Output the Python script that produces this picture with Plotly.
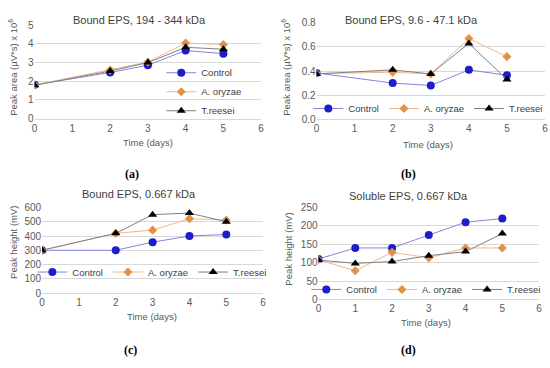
import plotly.graph_objects as go

# ---------------- data ----------------
series_names = ["Control", "A. oryzae", "T.reesei"]

days_a = [0, 2, 3, 4, 5]
a_control = [1.81, 2.47, 2.86, 3.65, 3.48]
a_oryzae = [1.80, 2.60, 3.03, 4.05, 3.97]
a_reesei = [1.78, 2.55, 3.00, 3.82, 3.72]

days_b = [0, 2, 3, 4, 5]
b_control = [0.384, 0.30, 0.28, 0.41, 0.365]
b_oryzae = [0.38, 0.39, 0.376, 0.67, 0.52]
b_reesei = [0.376, 0.41, 0.376, 0.63, 0.33]

days_c = [0, 2, 3, 4, 5]
c_control = [300, 300, 357, 400, 411]
c_oryzae = [300, 419, 441, 522, 512]
c_reesei = [300, 419, 550, 561, 500]

days_d = [0, 1, 2, 3, 4, 5]
d_control = [110, 140, 140, 175, 210, 220]
d_oryzae = [108, 78, 128, 113, 140, 140]
d_reesei = [107, 98, 103, 119, 130, 179]

panel_titles = ["Bound EPS, 194 - 344 kDa", "Bound EPS, 9.6 - 47.1 kDa",
                "Bound EPS, 0.667 kDa", "Soluble EPS, 0.667 kDa"]
y_titles = ["Peak area (µV*s) x 10<sup>6</sup>", "Peak area (µV*s) x 10<sup>6</sup>",
            "Peak height (mV)", "Peak height (mV)"]
x_title = "Time (days)"
panel_labels = ["(a)", "(b)", "(c)", "(d)"]

# ---------------- style ----------------
W, H = 550, 368
FONT = "Liberation Sans, Arial, sans-serif"
TICK = "#595959"
GRID = "#D9D9D9"

styles = [
    dict(symbol="circle", size=8, mcolor="#1E1EC8", lcolor="#8585E0"),
    dict(symbol="diamond", size=7, mcolor="#E0924A", lcolor="#F0B98A"),
    dict(symbol="triangle-up", size=8, mcolor="#000000", lcolor="#808080"),
]

def px_x(p):
    return p / W

def px_y(p):
    return 1 - p / H

fig = go.Figure()

panels = [
    (days_a, [a_control, a_oryzae, a_reesei], "x", "y", "legend"),
    (days_b, [b_control, b_oryzae, b_reesei], "x2", "y2", "legend2"),
    (days_c, [c_control, c_oryzae, c_reesei], "x3", "y3", "legend3"),
    (days_d, [d_control, d_oryzae, d_reesei], "x4", "y4", "legend4"),
]

for days, vals, xa, ya, lg in panels:
    for name, v, st in zip(series_names, vals, styles):
        fig.add_trace(go.Scatter(
            x=days, y=v, name=name, mode="lines+markers",
            xaxis=xa, yaxis=ya, legend=lg,
            line=dict(color=st["lcolor"], width=1),
            marker=dict(symbol=st["symbol"], size=st["size"], color=st["mcolor"],
                        line=dict(width=0)),
        ))

# axes geometry (pixels): x0, x6, y_bottom, y_top
geo = [
    (32, 261, 116.3, 20.0, [0, 5], 1, None),
    (317, 548, 117.0, 17.5, [0, 0.8], 0.2, ".1f"),
    (39.5, 263, 296.7, 208.3, [0, 600], 100, None),
    (319, 542, 303.3, 208.3, [0, 250], 50, None),
]

layout = dict(
    width=W, height=H,
    margin=dict(l=0, r=0, t=0, b=0),
    paper_bgcolor="white", plot_bgcolor="white",
    font=dict(family=FONT, size=10, color=TICK),
)

for i, (x0, x1, yb, yt, yr, dt, fmt) in enumerate(geo):
    sfx = "" if i == 0 else str(i + 1)
    layout["xaxis" + sfx] = dict(
        domain=[px_x(x0), px_x(x1)], range=[0, 6], dtick=1, tick0=0,
        anchor="y" + sfx, showgrid=False, zeroline=False,
        showline=True, linecolor=GRID, linewidth=1, ticks="",
        tickfont=dict(family=FONT, size=10, color=TICK),
    )
    ya = dict(
        domain=[px_y(yb), px_y(yt)], range=yr, dtick=dt, tick0=0,
        anchor="x" + sfx, showgrid=True, gridcolor=GRID, gridwidth=1,
        zeroline=False, showline=False, ticks="",
        tickfont=dict(family=FONT, size=10, color=TICK),
    )
    if fmt:
        ya["tickformat"] = fmt
    layout["yaxis" + sfx] = ya

legend_font = dict(family=FONT, size=9.5, color="#404040")
common_leg = dict(font=legend_font, bgcolor="rgba(0,0,0,0)", itemwidth=30,
                  tracegroupgap=0, borderwidth=0)
layout["legend"] = dict(x=px_x(160), y=px_y(54), xanchor="left", yanchor="top",
                        orientation="v", **common_leg)
layout["legend2"] = dict(x=px_x(430), y=px_y(106), xanchor="center", yanchor="middle",
                         orientation="h", **common_leg)
layout["legend3"] = dict(x=px_x(151), y=px_y(275), xanchor="center", yanchor="middle",
                         orientation="h", **common_leg)
layout["legend4"] = dict(x=px_x(428), y=px_y(293), xanchor="center", yanchor="middle",
                         orientation="h", **common_leg)

fig.update_layout(**layout)

# titles, axis titles and panel labels
title_pos = [(137.5, 14), (412.5, 14), (138, 194), (410, 196)]
ytitle_pos = [(10, 63), (286, 63), (10, 244), (289, 251)]
xtitle_pos = [(147, 141), (430, 143), (151, 321), (428, 327)]
label_pos = [(130, 174), (410, 174), (129, 356), (410, 356)]

for i in range(4):
    tx, ty = title_pos[i]
    fig.add_annotation(x=px_x(tx), y=px_y(ty), xref="paper", yref="paper",
                       text=panel_titles[i], showarrow=False,
                       font=dict(family=FONT, size=11, color="#404040"),
                       xanchor="center", yanchor="middle")
    yx, yy = ytitle_pos[i]
    fig.add_annotation(x=px_x(yx), y=px_y(yy), xref="paper", yref="paper",
                       text=y_titles[i], showarrow=False, textangle=-90,
                       font=dict(family=FONT, size=9.5, color=TICK),
                       xanchor="center", yanchor="middle")
    xx, xy = xtitle_pos[i]
    fig.add_annotation(x=px_x(xx), y=px_y(xy), xref="paper", yref="paper",
                       text=x_title, showarrow=False,
                       font=dict(family=FONT, size=9.5, color=TICK),
                       xanchor="center", yanchor="middle")
    lx, ly = label_pos[i]
    fig.add_annotation(x=px_x(lx), y=px_y(ly), xref="paper", yref="paper",
                       text="<b>" + panel_labels[i] + "</b>", showarrow=False,
                       font=dict(family="Liberation Serif, DejaVu Serif, serif", size=12, color="#000000"),
                       xanchor="center", yanchor="middle")

fig.write_html("out.html",
               config={"displayModeBar": False},
               post_script="document.body.style.margin='0';document.body.style.padding='0';")
